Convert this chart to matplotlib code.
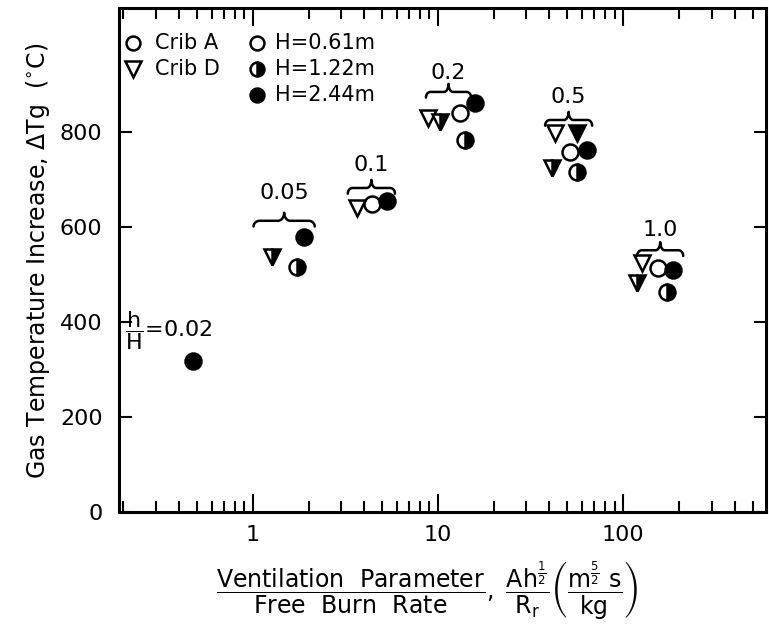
import numpy as np
import matplotlib
matplotlib.use("Agg")
import matplotlib.pyplot as plt
from matplotlib.ticker import LogLocator, FuncFormatter, NullFormatter

plt.rcParams["font.family"] = "DejaVu Sans"
plt.rcParams["mathtext.fontset"] = "dejavusans"

# Crib A (circles) and Crib D (triangles) for three crib heights
a_061_x = [4.40, 13.15, 51.7, 154.6]
a_061_y = [648, 840, 758, 514]
a_122_x = [1.73, 14.0, 56.4, 173]
a_122_y = [516, 783, 716, 463]
a_244_x = [0.474, 1.89, 5.30, 15.86, 63.9, 186]
a_244_y = [318, 579, 655, 861, 762, 509]
d_061_x = [3.65, 8.83, 42.9, 126.7]
d_061_y = [640, 829, 798, 524]
d_122_x = [1.27, 10.25, 41.3, 119]
d_122_y = [537, 821, 724, 482]
d_244_x = [56.4]
d_244_y = [798]

# h/H group labels with their braces
ratio_labels = ["0.05", "0.1", "0.2", "0.5", "1.0"]
brace_lo = [1.01, 3.26, 8.61, 37.9, 119]
brace_hi = [2.16, 5.86, 15.1, 68.0, 211]
brace_y = [613, 682, 884, 825, 551]
label_y = [671, 730, 924, 874, 594]

fig = plt.figure(figsize=(7.69, 6.34), dpi=100)
ax = fig.add_axes([0.155, 0.192, 0.841, 0.795])

ms = 11.5
mew = 1.8
series = [
    (a_061_x, a_061_y, "o", "none"),
    (a_122_x, a_122_y, "o", "right"),
    (a_244_x, a_244_y, "o", "full"),
    (d_061_x, d_061_y, "v", "none"),
    (d_122_x, d_122_y, "v", "right"),
    (d_244_x, d_244_y, "v", "full"),
]
for xs, ys, m, fs in series:
    if fs == "none":
        ax.plot(xs, ys, ls="none", marker=m, ms=ms, mew=mew, mec="k", mfc="white")
    else:
        ax.plot(xs, ys, ls="none", marker=m, ms=ms, mew=mew, mec="k", mfc="k",
                fillstyle=fs, markerfacecoloralt="white")


def draw_brace(ax, x0, x1, y, dn=12, up=17):
    u0, u1 = np.log10(x0), np.log10(x1)
    um = (u0 + u1) / 2
    du = (u1 - u0) * 0.1
    t = np.linspace(0, np.pi / 2, 20)
    # left half
    lu = np.concatenate([u0 + du * (1 - np.cos(t)), um - du + du * np.sin(t)])
    lv = np.concatenate([y - dn * (1 - np.sin(t)), y + up * (1 - np.cos(t))])
    # right half, mirrored
    ru = 2 * um - lu[::-1]
    rv = lv[::-1]
    u = np.concatenate([lu, ru])
    v = np.concatenate([lv, rv])
    ax.plot(10 ** u, v, color="k", lw=1.8, solid_capstyle="round")


for lab, lo, hi, by, ly in zip(ratio_labels, brace_lo, brace_hi, brace_y, label_y):
    draw_brace(ax, lo, hi, by)
    xm = 10 ** ((np.log10(lo) + np.log10(hi)) / 2)
    ax.text(xm, ly, lab, ha="center", va="center", fontsize=16)

ax.text(0.205, 383, r"$\dfrac{\mathrm{h}}{\mathrm{H}}$=0.02", ha="left", va="center",
        fontsize=16)

# legend drawn by hand
ax.plot([0.0216], [0.9306], transform=ax.transAxes, marker="o", ms=10, mew=1.8,
        mec="k", mfc="white", ls="none")
ax.plot([0.0216], [0.879], transform=ax.transAxes, marker="v", ms=11, mew=1.8,
        mec="k", mfc="white", ls="none")
ax.text(0.056, 0.9306, "Crib A", transform=ax.transAxes, va="center", fontsize=15)
ax.text(0.056, 0.879, "Crib D", transform=ax.transAxes, va="center", fontsize=15)
col2 = [("none", "H=0.61m", 0.9306), ("right", "H=1.22m", 0.879),
        ("full", "H=2.44m", 0.827)]
for fs, txt, yy in col2:
    if fs == "none":
        ax.plot([0.213], [yy], transform=ax.transAxes, marker="o", ms=10, mew=1.8,
                mec="k", mfc="white", ls="none")
    else:
        ax.plot([0.213], [yy], transform=ax.transAxes, marker="o", ms=10, mew=1.8,
                mec="k", mfc="k", fillstyle=fs, markerfacecoloralt="white", ls="none")
    ax.text(0.241, yy, txt, transform=ax.transAxes, va="center", fontsize=15)

ax.set_xscale("log")
ax.set_xlim(0.19, 590)
ax.set_ylim(0, 1060)
ax.set_yticks([0, 200, 400, 600, 800])
ax.xaxis.set_major_locator(LogLocator(base=10))
ax.xaxis.set_minor_locator(LogLocator(base=10, subs=np.arange(2, 10)))
ax.xaxis.set_major_formatter(FuncFormatter(lambda v, p: f"{v:g}"))
ax.xaxis.set_minor_formatter(NullFormatter())

for s in ax.spines.values():
    s.set_linewidth(2.2)
ax.tick_params(which="both", direction="in", top=True, right=True, width=1.5,
               labelsize=16)
ax.tick_params(axis="x", which="major", length=13, pad=9)
ax.tick_params(axis="x", which="minor", length=8)
ax.tick_params(axis="y", which="major", length=9, pad=12)

ax.set_ylabel(r"Gas Temperature Increase, $\Delta$Tg  ($^{\circ}$C)", fontsize=17,
              labelpad=6)
fig.text(0.555, 0.068,
         r"$\dfrac{\mathrm{Ventilation\ \ Parameter}}{\mathrm{Free\ \ Burn\ \ Rate}},\ "
         r"\dfrac{\mathrm{Ah}^{\frac{1}{2}}}{\mathrm{R_r}}\left(\dfrac{\mathrm{m}^{\frac{5}{2}}\ \mathrm{s}}{\mathrm{kg}}\right)$",
         ha="center", va="center", fontsize=17)

fig.savefig("out.png", dpi=100)
